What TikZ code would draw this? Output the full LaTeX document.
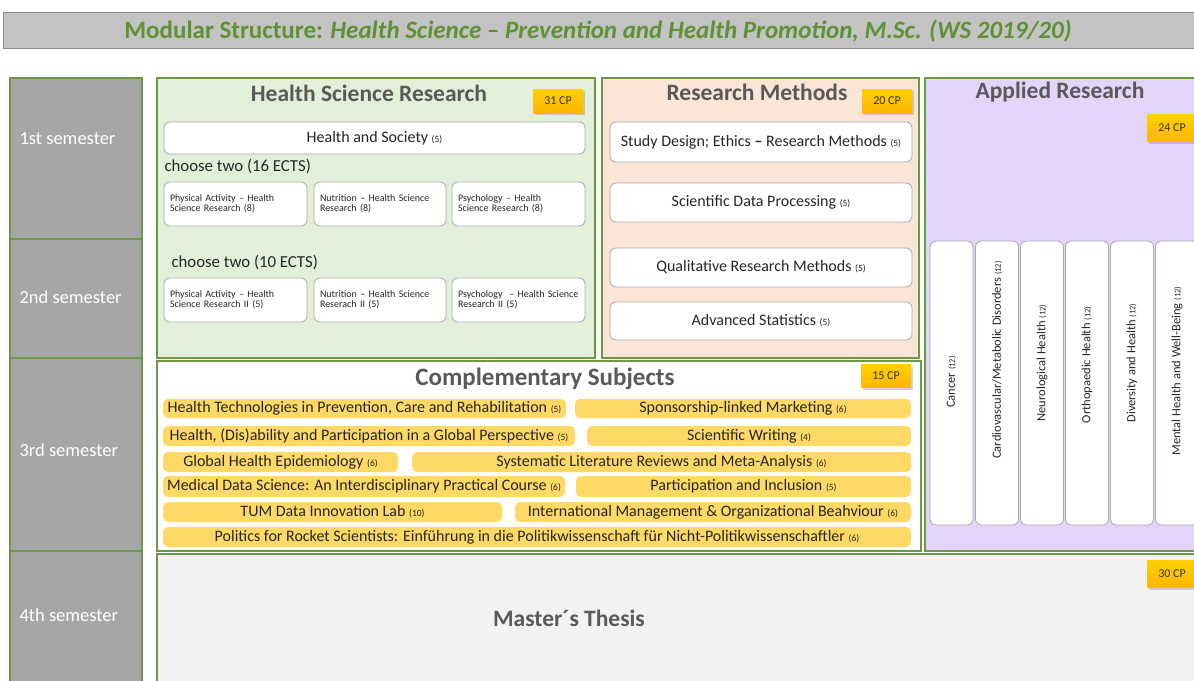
\documentclass[tikz,border=0pt]{standalone}
\usepackage{fontspec}
\setmainfont{Carlito}
\usepackage{xcolor}
\usetikzlibrary{shadows}

\definecolor{frame}{HTML}{6A9A45}
\definecolor{titlegreen}{HTML}{5E9234}
\definecolor{titlefill}{HTML}{C3C3C3}
\definecolor{titleline}{HTML}{8C8C8C}
\definecolor{semgray}{HTML}{A6A6A6}
\definecolor{hsrfill}{HTML}{E2EFD9}
\definecolor{rmfill}{HTML}{FBE5D6}
\definecolor{arfill}{HTML}{E4D4F9}
\definecolor{thesisfill}{HTML}{F2F2F2}
\definecolor{barfill}{HTML}{FFD966}
\definecolor{headgray}{HTML}{595959}
\definecolor{modline}{HTML}{A9A9A9}
\definecolor{gold}{HTML}{FFC000}

\newcommand{\fsz}[1]{\fontsize{#1}{#1}\selectfont}
\newcommand{\ects}[1]{{\fsz{9.5}(#1)}}
\newcommand{\ectsv}[1]{{\fsz{8.5}(#1)}}

\tikzset{
  panel/.style={draw=frame,line width=1.5pt},
  semtext/.style={anchor=west,text=white,font=\fsz{18.5}},
  head/.style={text=headgray,font=\fsz{23.5}\bfseries},
  badge/.style={top color=gold!75!yellow,bottom color=gold!85!orange,minimum width=50,minimum height=24,
    inner sep=0pt,font=\fsz{12},text=black!80,drop shadow={shadow xshift=1.5pt,shadow yshift=-2pt,opacity=.35}},
  module/.style={draw=modline,fill=white,line width=0.8pt,rounded corners=6pt,inner sep=0pt,text=black!85,font=\fsz{16}},
  submod/.style={module,font=\fsz{10},align=left,text width=#1-12,minimum width=#1,minimum height=44},
  choose/.style={anchor=west,text=black!85,font=\fsz{16.8}},
  elective/.style={fill=barfill,rounded corners=5pt,inner sep=0pt,text=black!85,font=\fsz{16}},
  area/.style={module,minimum width=43,minimum height=284},
  areatext/.style={rotate=90,inner sep=0pt,text=black!85,font=\fsz{12.5}}
}

\begin{document}
\begin{tikzpicture}[x=1pt,y=-1pt]
  \clip (0,0) rectangle (1194,680);
  \fill[white] (0,0) rectangle (1194,680);

  % title bar
  \draw[fill=titlefill,draw=titleline,line width=1pt] (3,12) rectangle (1200,48);
  \node[text=titlegreen,font=\fsz{25}\bfseries] (title) at (598,31)
    {Modular Structure: \textit{Health Science -- Prevention and Health Promotion, M.Sc. (WS 2019/20)}};

  % semesters
  \draw[panel,fill=semgray] (10,78) rectangle (142,239);
  \draw[panel,fill=semgray] (10,239) rectangle (142,358);
  \draw[panel,fill=semgray] (10,358) rectangle (142,551);
  \draw[panel,fill=semgray] (10,551) rectangle (142,690);
  \node[semtext] (sem1) at (16,139) {1st semester};
  \node[semtext] (sem2) at (16,297) {2nd semester};
  \node[semtext] (sem3) at (16,450) {3rd semester};
  \node[semtext] (sem4) at (16,615) {4th semester};

  % module groups
  \draw[panel,fill=hsrfill] (157,78) rectangle (595,358);
  \draw[panel,fill=rmfill] (602,78) rectangle (919,358);
  \draw[panel,fill=arfill] (925,78) rectangle (1200,551);
  \draw[panel,fill=white] (157,361) rectangle (921,551);
  \draw[panel,fill=thesisfill] (157,554) rectangle (1200,690);

  % health science research
  \node[head] (hsr) at (369,93) {Health Science Research};
  \node[badge] (cp31) at (558,101) {31 CP};
  \node[module,minimum width=421,minimum height=32] (hsoc) at (374.5,138) {Health and Society \ects{5}};
  \node[choose] (ch16) at (161,167) {choose two (16 ECTS)};
  \node[submod=143] (pa1) at (235.5,204) {\mbox{Physical Activity -- Health}\\Science Research (8)};
  \node[submod=132] (nu1) at (380,204) {\mbox{Nutrition -- Health Science}\\Research (8)};
  \node[submod=133] (ps1) at (518.5,204) {\mbox{Psychology -- Health}\\Science Research (8)};
  \node[choose] (ch10) at (168,263) {choose two (10 ECTS)};
  \node[submod=143] (pa2) at (235.5,300) {\mbox{Physical Activity -- Health}\\Science Research II (5)};
  \node[submod=132] (nu2) at (380,300) {\mbox{Nutrition -- Health Science}\\Reserach II (5)};
  \node[submod=133] (ps2) at (518.5,300) {\mbox{Psychology\ \ -- Health Science}\\Research II (5)};

  % research methods
  \node[head] (rm) at (757,92) {Research Methods};
  \node[badge] (cp20) at (887,101) {20 CP};
  \node[module,minimum width=302,minimum height=40] (sdes) at (761,142) {Study Design; Ethics \textbf{--} Research Methods \ects{5}};
  \node[module,minimum width=302,minimum height=39] (sdp) at (761,202.5) {Scientific Data Processing \ects{5}};
  \node[module,minimum width=302,minimum height=39] (qrm) at (761,267.5) {Qualitative Research Methods \ects{5}};
  \node[module,minimum width=302,minimum height=38] (astat) at (761,321) {Advanced Statistics \ects{5}};

  % applied research
  \node[head] (ar) at (1060,92) {Applied Research};
  \node[badge,minimum height=27] (cp24) at (1172,128) {24 CP};
  \node[area] (canc) at (951.5,383) {};
  \node[area] (card) at (997,383) {};
  \node[area] (neur) at (1042,383) {};
  \node[area] (orth) at (1087,383) {};
  \node[area] (divh) at (1132,383) {};
  \node[area] (ment) at (1177,383) {};
  \node[areatext] (canct) at (951.5,382) {Cancer \ectsv{12}};
  \node[areatext] (cardt) at (997,360) {Cardiovascular/Metabolic Disorders \ectsv{12}};
  \node[areatext] (neurt) at (1042,363) {Neurological Health \ectsv{12}};
  \node[areatext] (ortht) at (1087,365) {Orthopaedic Health \ectsv{12}};
  \node[areatext] (divht) at (1132,363) {Diversity and Health \ectsv{12}};
  \node[areatext] (mentt) at (1177,371) {Mental Health and Well-Being \ectsv{12}};

  % complementary subjects
  \node[head,font=\fsz{25}\bfseries] (cs) at (545,379) {Complementary Subjects};
  \node[badge,minimum height=23] (cp15) at (886,376) {15 CP};
  \node[elective,minimum width=403,minimum height=19] (htech) at (364.5,408.5) {Health Technologies in Prevention, Care and Rehabilitation \ects{5}};
  \node[elective,minimum width=336,minimum height=19] (spons) at (743,408.5) {Sponsorship-linked Marketing \ects{6}};
  \node[elective,minimum width=412,minimum height=20] (disab) at (369,436) {Health, (Dis)ability and Participation in a Global Perspective \ects{5}};
  \node[elective,minimum width=324,minimum height=20] (swrit) at (749,436) {Scientific Writing \ects{4}};
  \node[elective,minimum width=235,minimum height=20] (ghepi) at (280.5,462) {Global Health Epidemiology \ects{6}};
  \node[elective,minimum width=499,minimum height=20] (slrev) at (661.5,462) {Systematic Literature Reviews and Meta-Analysis \ects{6}};
  \node[elective,minimum width=402,minimum height=21] (mdsci) at (364,486.5) {Medical Data Science: An Interdisciplinary Practical Course \ects{6}};
  \node[elective,minimum width=335,minimum height=21] (parti) at (743.5,486.5) {Participation and Inclusion \ects{5}};
  \node[elective,minimum width=339,minimum height=20] (tumdi) at (332.5,512) {TUM Data Innovation Lab \ects{10}};
  \node[elective,minimum width=396,minimum height=20] (imob) at (713,512) {International Management \& Organizational Beahviour \ects{6}};
  \node[elective,minimum width=748,minimum height=20] (polit) at (537,537) {Politics for Rocket Scientists: Einführung in die Politikwissenschaft für Nicht-Politikwissenschaftler \ects{6}};

  % thesis
  \node[head] (thesis) at (569,618) {Master´s Thesis};
  \node[badge,minimum height=27] (cp30) at (1172,574) {30 CP};
\end{tikzpicture}
\end{document}
